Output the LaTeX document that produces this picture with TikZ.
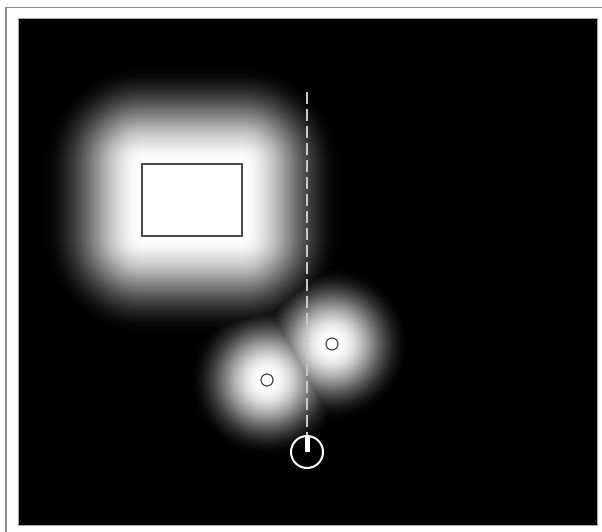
\documentclass[tikz,border=0pt]{standalone}
\usetikzlibrary{calc}
\definecolor{frame}{HTML}{8C8C8C}
\definecolor{edge}{HTML}{A8A8A8}
\definecolor{outline}{HTML}{4A4A4A}
\definecolor{path}{HTML}{C8C8C8}

\begin{document}
\begin{tikzpicture}[x=1pt, y=-1pt,
  obstacle/.style={draw=outline, line width=1.2pt},
  robot/.style={draw=white, line width=2pt}]

\useasboundingbox (0,0) rectangle (602,532);

% Outer frame (open to the right and bottom)
\draw[frame, line width=1.5pt] (6,534) -- (6,7.5) -- (604,7.5);

% Map area
\fill[black] (18,19) rectangle (597,525);

% Obstacles and robot
\coordinate (obsA) at (332,344);
\coordinate (obsB) at (267,380);
\coordinate (bot) at (307,452);

% Cost field: painted from dark to bright, so the brightest level wins
% (the small discs fall off over a shorter range than the box)
\begin{scope}
\clip (18,19) rectangle (597,525);
\foreach \d in {100,99,...,0}{
  \pgfmathsetmacro\lvl{100*(1-(3*(\d/100)^2-2*(\d/100)^3))}
  \pgfmathsetmacro\rad{6+0.72*\d}
  \fill[white!\lvl!black, rounded corners=\d pt] (142-\d,164-\d) rectangle (242+\d,236+\d);
  \fill[white!\lvl!black] (obsA) circle[radius=\rad pt];
  \fill[white!\lvl!black] (obsB) circle[radius=\rad pt];
}
\end{scope}

% Map border
\draw[edge, line width=1pt] (18,19) rectangle (597,525);

% Obstacle outlines
\draw[obstacle] (142,164) rectangle (242,236);
\draw[obstacle] (obsA) circle[radius=6pt];
\draw[obstacle] (obsB) circle[radius=6pt];

% Planned path
\draw[path, line width=2pt, dash pattern=on 12pt off 5pt] (307,92) -- (bot);

% Robot with heading
\draw[robot] (bot) circle[radius=16pt];
\draw[white, line width=5pt] (bot) -- ++(0,-16);

\end{tikzpicture}
\end{document}
